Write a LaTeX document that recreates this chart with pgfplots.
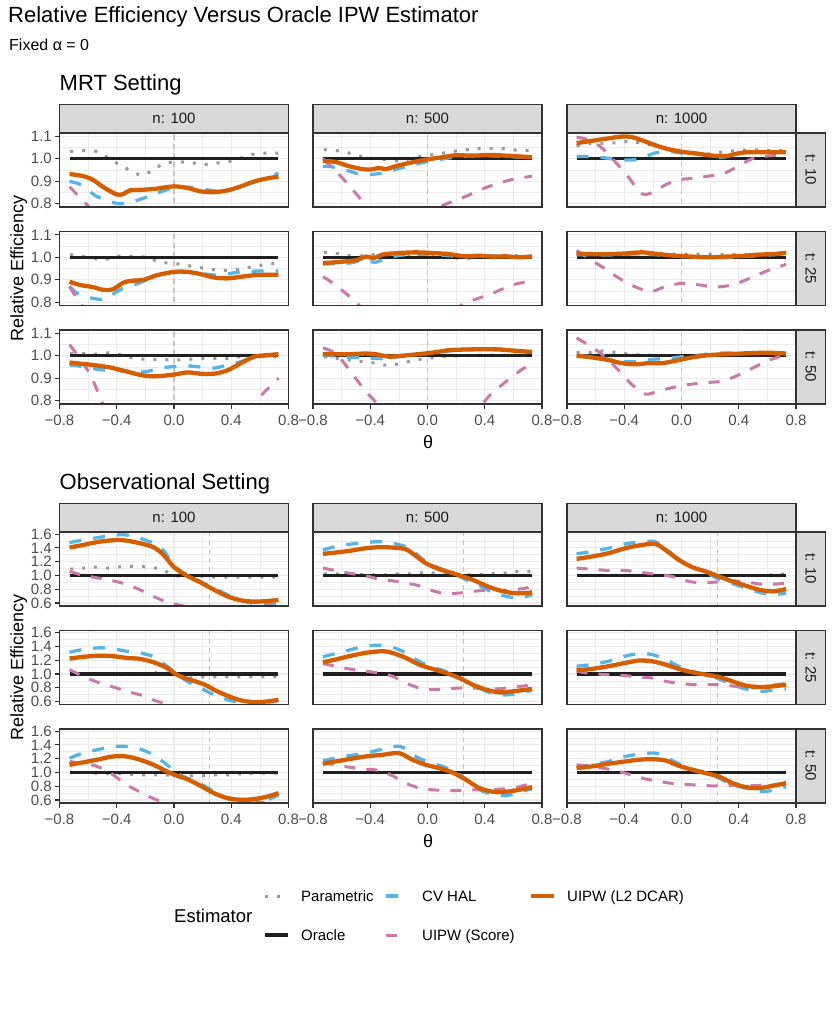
\documentclass[border=0pt]{standalone}
\usepackage{fontspec}
\setmainfont{Liberation Sans}
\usepackage{pgfplots}
\pgfplotsset{compat=1.18}
\definecolor{cvhalc}{HTML}{56B4E9}
\definecolor{l2c}{HTML}{D55E00}
\definecolor{scorec}{HTML}{CC79A7}
\definecolor{paramc}{HTML}{999999}
\definecolor{oraclec}{HTML}{1F1F1F}
\definecolor{gridc}{HTML}{EBEBEB}
\definecolor{stripc}{HTML}{D9D9D9}
\definecolor{borderc}{HTML}{333333}
\definecolor{ticklab}{HTML}{4D4D4D}
\definecolor{striptext}{HTML}{1A1A1A}
\definecolor{vlinec}{HTML}{C4C4C4}
\newcommand{\ticksz}{\fontsize{15}{18}\selectfont}
\pgfplotsset{
  base/.style={scale only axis, width=229pt, height=74pt, anchor=north west,
    xmin=-0.8, xmax=0.8, clip=true,
    axis line style={draw=borderc, line width=1.1pt},
    grid=both, major grid style={draw=gridc, line width=1.1pt}, minor grid style={draw=gridc, line width=0.55pt},
    xtick={-0.8,-0.4,0,0.4,0.8}, minor xtick={-0.6,-0.2,0.2,0.6},
    xtick pos=bottom, ytick pos=left, tick align=outside,
    major tick length=4.5pt, minor tick length=0pt,
    tick style={draw=borderc, line width=1.1pt},
    xticklabels={}, yticklabels={},
    xticklabel style={font=\ticksz, text=ticklab, inner sep=0pt, anchor=north, yshift=-6pt},
    yticklabel style={font=\ticksz, text=ticklab, inner sep=0pt, anchor=east, xshift=-3pt},
    after end axis/.code={\draw[borderc, line width=1.1pt] (rel axis cs:0,0) rectangle (rel axis cs:1,1);}},
  mrt/.style={base, ymin=0.785, ymax=1.115, ytick={0.8,0.9,1.0,1.1}, minor ytick={0.85,0.95,1.05}},
  obs/.style={base, ymin=0.557, ymax=1.63, ytick={0.6,0.8,1.0,1.2,1.4,1.6}, minor ytick={0.7,0.9,1.1,1.3,1.5}},
  showx/.style={xticklabels={−0.8,−0.4,0.0,0.4,0.8}},
  nox/.style={xtick style={draw=none}},
  noy/.style={ytick style={draw=none}},
  showymrt/.style={yticklabels={0.8,0.9,1.0,1.1}},
  showyobs/.style={yticklabels={0.6,0.8,1.0,1.2,1.4,1.6}},
  vline/.style={vlinec, line width=1.3pt, dash pattern=on 5pt off 4pt, mark=none},
  param/.style={paramc, line width=3pt, dash pattern=on 3pt off 9pt, mark=none, smooth, tension=0.5},
  oracle/.style={oraclec, line width=3.2pt, mark=none},
  cvhal/.style={cvhalc, line width=3.3pt, dash pattern=on 12pt off 12pt, mark=none, smooth, tension=0.5},
  score/.style={scorec, line width=3pt, dash pattern=on 11pt off 11pt, mark=none, smooth, tension=0.5},
  l2/.style={l2c, line width=4.3pt, mark=none, smooth, tension=0.5, line join=round},
}
\newcommand{\orc}{\addplot[oracle] coordinates {(-0.73,1) (0.73,1)};}
\begin{document}
\begin{tikzpicture}[x=1pt,y=1pt]
\useasboundingbox (0pt,0pt) rectangle (839pt,-1036pt);
% ================= MRT =================
\begin{axis}[mrt, at={(59.5pt,-133pt)}, nox, showymrt]
\addplot[vline] coordinates {(0,0) (0,2)};
\addplot[param] coordinates {(-0.725,1.033) (-0.631,1.036) (-0.542,1.033) (-0.46,1.004) (-0.385,0.975) (-0.308,0.949) (-0.225,0.926) (-0.148,0.949) (-0.073,0.978) (0.021,0.986) (0.115,0.983) (0.209,0.975) (0.298,0.981) (0.385,0.988) (0.472,1.004) (0.566,1.022) (0.655,1.025) (0.73,1.025)};
\orc
\addplot[cvhal] coordinates {(-0.73,0.899) (-0.648,0.884) (-0.542,0.833) (-0.401,0.801) (-0.331,0.804) (-0.237,0.819) (-0.143,0.841) (-0.049,0.862) (0.045,0.872) (0.138,0.872) (0.232,0.862) (0.326,0.855) (0.42,0.865) (0.514,0.884) (0.631,0.913) (0.73,0.935)};
\addplot[score] coordinates {(-0.73,0.875) (-0.6,0.79) (-0.5,0.72) (-0.3,0.65) (0,0.62) (0.3,0.65) (0.5,0.7) (0.73,0.74)};
\addplot[l2] coordinates {(-0.73,0.932) (-0.636,0.923) (-0.566,0.906) (-0.495,0.874) (-0.401,0.841) (-0.354,0.843) (-0.308,0.859) (-0.214,0.862) (-0.12,0.867) (-0.002,0.877) (0.092,0.870) (0.185,0.855) (0.279,0.851) (0.373,0.859) (0.467,0.877) (0.561,0.899) (0.655,0.913) (0.73,0.920)};
\end{axis}
\begin{axis}[mrt, at={(59.5pt,-231.5pt)}, nox, showymrt]
\addplot[vline] coordinates {(0,0) (0,2)};
\addplot[param] coordinates {(-0.725,1.012) (-0.636,1.003) (-0.542,0.993) (-0.46,0.993) (-0.366,1.007) (-0.284,1.003) (-0.19,1.0) (-0.101,0.978) (-0.007,0.974) (0.087,0.964) (0.181,0.954) (0.275,0.945) (0.362,0.942) (0.448,0.946) (0.542,0.957) (0.631,0.967) (0.725,0.974)};
\orc
\addplot[cvhal] coordinates {(-0.73,0.87) (-0.66,0.833) (-0.542,0.814) (-0.472,0.816) (-0.378,0.855) (-0.237,0.887) (-0.143,0.913) (0.0,0.935) (0.092,0.935) (0.185,0.928) (0.303,0.92) (0.373,0.926) (0.467,0.935) (0.608,0.939) (0.73,0.939)};
\addplot[score] coordinates {(-0.73,0.87) (-0.66,0.80) (-0.55,0.72) (-0.3,0.6) (0,0.58) (0.3,0.6) (0.73,0.65)};
\addplot[l2] coordinates {(-0.73,0.891) (-0.66,0.877) (-0.566,0.867) (-0.495,0.855) (-0.425,0.858) (-0.354,0.887) (-0.284,0.896) (-0.214,0.899) (-0.12,0.92) (0.0,0.935) (0.092,0.935) (0.185,0.925) (0.279,0.91) (0.373,0.906) (0.467,0.913) (0.561,0.92) (0.655,0.922) (0.73,0.922)};
\end{axis}
\begin{axis}[mrt, at={(59.5pt,-330pt)}, showx, showymrt]
\addplot[vline] coordinates {(0,0) (0,2)};
\addplot[param] coordinates {(-0.725,1.01) (-0.636,1.01) (-0.542,1.007) (-0.448,1.014) (-0.366,1.003) (-0.272,0.988) (-0.178,0.984) (-0.085,0.984) (0.009,0.981) (0.103,0.984) (0.185,0.988) (0.279,0.988) (0.373,0.988) (0.467,0.996) (0.561,0.996) (0.655,0.996) (0.73,0.996)};
\orc
\addplot[cvhal] coordinates {(-0.73,0.959) (-0.636,0.952) (-0.519,0.938) (-0.401,0.935) (-0.284,0.926) (-0.19,0.93) (-0.096,0.945) (0,0.952) (0.092,0.955) (0.185,0.95) (0.279,0.945) (0.373,0.959) (0.467,0.974) (0.561,0.993) (0.655,1.0) (0.73,1.0)};
\addplot[score] coordinates {(-0.73,1.05) (-0.65,0.98) (-0.58,0.91) (-0.52,0.82) (-0.4,0.65) (-0.2,0.55) (0,0.5) (0.2,0.55) (0.4,0.66) (0.56,0.79) (0.65,0.85) (0.73,0.90)};
\addplot[l2] coordinates {(-0.73,0.97) (-0.66,0.965) (-0.566,0.959) (-0.448,0.948) (-0.331,0.93) (-0.214,0.912) (-0.12,0.909) (0,0.916) (0.092,0.926) (0.185,0.92) (0.279,0.92) (0.373,0.935) (0.467,0.967) (0.561,0.996) (0.655,1.003) (0.73,1.007)};
\end{axis}
% n = 500
\begin{axis}[mrt, at={(313pt,-133pt)}, nox, noy]
\addplot[vline] coordinates {(0,0) (0,2)};
\addplot[param] coordinates {(-0.724,1.041) (-0.631,1.036) (-0.544,1.025) (-0.456,1.01) (-0.367,1.0) (-0.28,0.996) (-0.194,0.99) (-0.105,1.004) (-0.016,1.014) (0.077,1.022) (0.166,1.032) (0.255,1.039) (0.346,1.046) (0.437,1.046) (0.526,1.046) (0.619,1.039) (0.713,1.036)};
\orc
\addplot[cvhal] coordinates {(-0.731,0.967) (-0.666,0.964) (-0.549,0.946) (-0.456,0.928) (-0.362,0.932) (-0.292,0.938) (-0.199,0.957) (-0.105,0.971) (-0.012,0.986) (0.152,1.004) (0.269,1.012) (0.409,1.014) (0.549,1.01) (0.731,1.006)};
\addplot[score] coordinates {(-0.73,1.0) (-0.6,0.918) (-0.48,0.83) (-0.4,0.77) (-0.3,0.70) (-0.15,0.70) (0,0.75) (0.1,0.79) (0.27,0.833) (0.43,0.877) (0.6,0.909) (0.73,0.922)};
\addplot[l2] coordinates {(-0.731,0.99) (-0.643,0.986) (-0.549,0.967) (-0.456,0.954) (-0.397,0.952) (-0.339,0.959) (-0.292,0.954) (-0.222,0.967) (-0.129,0.981) (-0.012,0.996) (0.105,1.007) (0.199,1.016) (0.315,1.014) (0.432,1.017) (0.549,1.014) (0.731,1.007)};
\end{axis}
\begin{axis}[mrt, at={(313pt,-231.5pt)}, nox, noy]
\addplot[vline] coordinates {(0,0) (0,2)};
\addplot[param] coordinates {(-0.724,1.022) (-0.631,1.017) (-0.544,1.007) (-0.456,1.007) (-0.367,1.012) (-0.28,1.012) (-0.194,1.003) (-0.105,1.007) (-0.016,1.003) (0.077,1.003) (0.166,1.0) (0.255,0.993) (0.346,1.0) (0.437,1.003) (0.526,1.01) (0.619,1.007) (0.713,1.0)};
\orc
\addplot[cvhal] coordinates {(-0.731,0.97) (-0.643,0.972) (-0.549,0.974) (-0.45,0.985) (-0.362,0.978) (-0.292,0.995) (-0.199,1.008) (-0.082,1.014) (0.035,1.012) (0.152,1.007) (0.269,1.003) (0.409,1.007) (0.549,1.003) (0.731,1.0)};
\addplot[score] coordinates {(-0.73,0.913) (-0.66,0.884) (-0.52,0.812) (-0.4,0.74) (-0.2,0.68) (0,0.68) (0.15,0.74) (0.257,0.794) (0.43,0.833) (0.596,0.877) (0.73,0.895)};
\addplot[l2] coordinates {(-0.731,0.974) (-0.643,0.978) (-0.549,0.983) (-0.491,0.988) (-0.432,1.003) (-0.374,0.997) (-0.315,1.012) (-0.199,1.019) (-0.082,1.022) (0.035,1.019) (0.152,1.014) (0.269,1.004) (0.362,1.007) (0.456,1.003) (0.549,1.004) (0.643,1.0) (0.731,1.004)};
\end{axis}
\begin{axis}[mrt, at={(313pt,-330pt)}, showx, noy]
\addplot[vline] coordinates {(0,0) (0,2)};
\addplot[param] coordinates {(-0.724,0.996) (-0.631,0.988) (-0.544,0.981) (-0.451,0.974) (-0.362,0.967) (-0.273,0.957) (-0.18,0.967) (-0.091,0.981) (0,0.988) (0.093,0.996) (0.187,1.0) (0.269,1.0) (0.362,1.003) (0.456,1.003) (0.549,1.003) (0.631,1.003) (0.713,1.007)};
\orc
\addplot[cvhal] coordinates {(-0.731,1.003) (-0.643,0.999) (-0.549,0.993) (-0.467,0.993) (-0.362,0.988) (-0.292,0.988) (-0.199,0.996) (-0.082,1.003) (0.035,1.013) (0.152,1.022) (0.269,1.028) (0.409,1.032) (0.549,1.028) (0.731,1.017)};
\addplot[score] coordinates {(-0.73,1.035) (-0.64,1.01) (-0.55,0.94) (-0.43,0.84) (-0.35,0.785) (-0.2,0.66) (0,0.6) (0.25,0.68) (0.43,0.82) (0.64,0.93) (0.73,0.965)};
\addplot[l2] coordinates {(-0.731,1.007) (-0.643,1.007) (-0.549,1.007) (-0.432,1.01) (-0.362,1.007) (-0.269,0.996) (-0.199,0.999) (-0.082,1.006) (0.035,1.014) (0.152,1.025) (0.269,1.028) (0.386,1.029) (0.502,1.028) (0.619,1.022) (0.731,1.017)};
\end{axis}
% n = 1000
\begin{axis}[mrt, at={(567pt,-133pt)}, nox, noy]
\addplot[vline] coordinates {(0,0) (0,2)};
\addplot[param] coordinates {(-0.733,1.058) (-0.639,1.068) (-0.546,1.068) (-0.452,1.072) (-0.358,1.077) (-0.265,1.068) (-0.171,1.054) (-0.077,1.043) (0.016,1.033) (0.11,1.025) (0.192,1.022) (0.274,1.029) (0.368,1.036) (0.461,1.039) (0.555,1.039) (0.637,1.036) (0.726,1.039)};
\orc
\addplot[cvhal] coordinates {(-0.733,1.01) (-0.651,1.01) (-0.534,1.004) (-0.44,0.996) (-0.323,0.996) (-0.253,1.01) (-0.183,1.026) (-0.089,1.033) (0.005,1.025) (0.098,1.022) (0.192,1.014) (0.286,1.007) (0.379,1.022) (0.496,1.029) (0.59,1.029) (0.731,1.029)};
\addplot[score] coordinates {(-0.733,1.097) (-0.628,1.08) (-0.534,1.036) (-0.452,0.978) (-0.382,0.928) (-0.323,0.877) (-0.265,0.841) (-0.183,0.855) (-0.112,0.884) (-0.019,0.906) (0.075,0.913) (0.192,0.923) (0.309,0.938) (0.403,0.971) (0.52,1.007) (0.637,1.014) (0.73,1.025)};
\addplot[l2] coordinates {(-0.733,1.07) (-0.628,1.08) (-0.511,1.091) (-0.417,1.099) (-0.347,1.097) (-0.253,1.077) (-0.159,1.055) (-0.066,1.039) (0.028,1.029) (0.122,1.022) (0.215,1.014) (0.309,1.012) (0.379,1.022) (0.45,1.029) (0.543,1.029) (0.637,1.029) (0.731,1.029)};
\end{axis}
\begin{axis}[mrt, at={(567pt,-231.5pt)}, nox, noy]
\addplot[vline] coordinates {(0,0) (0,2)};
\addplot[param] coordinates {(-0.733,1.017) (-0.546,1.012) (-0.358,1.014) (-0.171,1.014) (0.016,1.014) (0.192,1.014) (0.368,1.012) (0.555,1.012) (0.73,1.014)};
\orc
\addplot[cvhal] coordinates {(-0.733,1.012) (-0.5,1.01) (-0.3,1.015) (-0.1,1.008) (0.1,1.0) (0.3,0.998) (0.5,1.006) (0.731,1.015)};
\addplot[score] coordinates {(-0.733,1.03) (-0.628,0.986) (-0.534,0.949) (-0.417,0.899) (-0.3,0.862) (-0.206,0.848) (-0.112,0.87) (0.005,0.884) (0.122,0.877) (0.239,0.867) (0.356,0.877) (0.45,0.899) (0.543,0.925) (0.637,0.949) (0.731,0.968)};
\addplot[l2] coordinates {(-0.733,1.017) (-0.628,1.014) (-0.511,1.014) (-0.393,1.017) (-0.276,1.022) (-0.159,1.014) (-0.042,1.007) (0.075,1.003) (0.192,1.0) (0.309,1.003) (0.426,1.006) (0.543,1.012) (0.637,1.014) (0.731,1.02)};
\end{axis}
\begin{axis}[mrt, at={(567pt,-330pt)}, showx, noy]
\addplot[vline] coordinates {(0,0) (0,2)};
\addplot[param] coordinates {(-0.733,1.014) (-0.639,1.014) (-0.546,1.022) (-0.452,1.014) (-0.358,1.007) (-0.265,1.003) (-0.171,1.003) (-0.077,0.999) (0.016,0.999) (0.11,0.996) (0.203,1.0) (0.297,1.0) (0.391,1.003) (0.485,1.003) (0.578,1.007) (0.66,1.007) (0.73,1.007)};
\orc
\addplot[cvhal] coordinates {(-0.733,1.0) (-0.628,0.996) (-0.534,0.988) (-0.44,0.974) (-0.323,0.974) (-0.206,0.984) (-0.112,0.988) (0.005,0.996) (0.122,1.003) (0.215,1.01) (0.356,1.013) (0.496,1.013) (0.637,1.01) (0.731,1.007)};
\addplot[score] coordinates {(-0.733,1.08) (-0.628,1.039) (-0.534,0.996) (-0.44,0.935) (-0.347,0.872) (-0.253,0.829) (-0.159,0.843) (-0.066,0.858) (0.052,0.872) (0.169,0.88) (0.286,0.887) (0.379,0.909) (0.496,0.945) (0.614,0.981) (0.731,1.005)};
\addplot[l2] coordinates {(-0.733,1.0) (-0.628,0.993) (-0.511,0.981) (-0.417,0.967) (-0.323,0.962) (-0.229,0.967) (-0.136,0.967) (-0.042,0.978) (0.075,0.993) (0.192,1.003) (0.309,1.007) (0.426,1.01) (0.543,1.013) (0.637,1.013) (0.731,1.01)};
\end{axis}
% ================= Observational =================
\begin{axis}[obs, at={(59.5pt,-532pt)}, nox, showyobs]
\addplot[vline] coordinates {(0.25,0) (0.25,2)};
\addplot[param] coordinates {(-0.725,1.091) (-0.636,1.106) (-0.542,1.12) (-0.448,1.106) (-0.354,1.13) (-0.265,1.13) (-0.171,1.12) (-0.077,1.082) (0.0,1.0) (0.094,0.986) (0.188,0.986) (0.282,0.976) (0.376,0.976) (0.469,0.976) (0.563,0.976) (0.655,0.976) (0.73,0.976)};
\orc
\addplot[cvhal] coordinates {(-0.73,1.476) (-0.636,1.514) (-0.519,1.553) (-0.401,1.587) (-0.331,1.587) (-0.237,1.538) (-0.143,1.466) (-0.073,1.36) (0,1.14) (0.092,1.0) (0.185,0.91) (0.279,0.817) (0.373,0.721) (0.467,0.64) (0.561,0.591) (0.655,0.577) (0.73,0.61)};
\addplot[score] coordinates {(-0.73,1.06) (-0.65,1.01) (-0.55,0.97) (-0.47,0.94) (-0.38,0.90) (-0.28,0.83) (-0.2,0.755) (-0.12,0.673) (-0.03,0.60) (0.06,0.56) (0.2,0.50) (0.4,0.48) (0.6,0.54) (0.73,0.585)};
\addplot[l2] coordinates {(-0.73,1.404) (-0.636,1.442) (-0.519,1.49) (-0.401,1.514) (-0.331,1.505) (-0.237,1.466) (-0.143,1.409) (-0.073,1.298) (0,1.12) (0.092,0.995) (0.185,0.899) (0.279,0.793) (0.373,0.697) (0.467,0.64) (0.561,0.62) (0.655,0.63) (0.73,0.645)};
\end{axis}
\begin{axis}[obs, at={(59.5pt,-630.5pt)}, nox, showyobs]
\addplot[vline] coordinates {(0.25,0) (0.25,2)};
\addplot[param] coordinates {(-0.725,1.015) (-0.636,1.005) (-0.542,1.005) (-0.448,0.99) (-0.354,0.99) (-0.26,0.99) (-0.167,1.005) (-0.073,1.024) (0.009,0.976) (0.103,0.942) (0.197,0.956) (0.291,0.956) (0.385,0.956) (0.467,0.956) (0.561,0.956) (0.655,0.956) (0.73,0.956)};
\orc
\addplot[cvhal] coordinates {(-0.73,1.316) (-0.636,1.354) (-0.519,1.379) (-0.425,1.364) (-0.331,1.33) (-0.237,1.306) (-0.143,1.248) (-0.049,1.112) (0.02,1.0) (0.092,0.893) (0.185,0.796) (0.279,0.699) (0.373,0.626) (0.467,0.587) (0.561,0.578) (0.655,0.583) (0.73,0.617)};
\addplot[score] coordinates {(-0.73,1.063) (-0.636,0.966) (-0.519,0.869) (-0.401,0.796) (-0.284,0.723) (-0.2,0.675) (-0.13,0.612) (0,0.54) (0.2,0.47) (0.4,0.45) (0.6,0.52) (0.73,0.58)};
\addplot[l2] coordinates {(-0.73,1.223) (-0.636,1.248) (-0.519,1.265) (-0.425,1.257) (-0.331,1.233) (-0.237,1.218) (-0.143,1.17) (-0.049,1.087) (0.02,0.99) (0.09,0.93) (0.16,0.885) (0.22,0.84) (0.279,0.772) (0.373,0.684) (0.467,0.617) (0.561,0.592) (0.655,0.602) (0.73,0.626)};
\end{axis}
\begin{axis}[obs, at={(59.5pt,-729pt)}, showx, showyobs]
\addplot[vline] coordinates {(0.25,0) (0.25,2)};
\addplot[param] coordinates {(-0.725,1.0) (-0.636,1.0) (-0.542,0.99) (-0.448,0.981) (-0.354,0.981) (-0.26,0.966) (-0.167,0.966) (-0.073,0.966) (0.009,0.952) (0.103,0.952) (0.197,0.952) (0.291,0.966) (0.385,0.966) (0.467,0.981) (0.561,0.99) (0.655,0.99) (0.73,0.99)};
\orc
\addplot[cvhal] coordinates {(-0.73,1.208) (-0.636,1.28) (-0.519,1.338) (-0.425,1.377) (-0.331,1.377) (-0.237,1.338) (-0.143,1.256) (-0.049,1.111) (0.021,0.99) (0.092,0.918) (0.185,0.836) (0.279,0.725) (0.373,0.628) (0.467,0.58) (0.561,0.556) (0.655,0.604) (0.73,0.676)};
\addplot[score] coordinates {(-0.73,1.16) (-0.64,1.13) (-0.55,1.097) (-0.45,1.0) (-0.33,0.82) (-0.24,0.72) (-0.15,0.628) (0,0.52) (0.3,0.45) (0.5,0.53) (0.58,0.575) (0.65,0.545) (0.73,0.5)};
\addplot[l2] coordinates {(-0.73,1.111) (-0.636,1.145) (-0.519,1.193) (-0.425,1.232) (-0.331,1.232) (-0.237,1.184) (-0.143,1.111) (-0.049,1.014) (0.021,0.952) (0.092,0.903) (0.185,0.807) (0.279,0.7) (0.373,0.628) (0.467,0.604) (0.561,0.614) (0.655,0.652) (0.73,0.70)};
\end{axis}
% n = 500
\begin{axis}[obs, at={(313pt,-532pt)}, nox, noy]
\addplot[vline] coordinates {(0.25,0) (0.25,2)};
\addplot[param] coordinates {(-0.724,1.024) (-0.631,1.024) (-0.537,1.024) (-0.444,1.01) (-0.362,1.01) (-0.269,1.01) (-0.187,1.024) (-0.093,1.024) (-0.012,1.043) (0.082,1.024) (0.164,1.01) (0.257,1.01) (0.35,1.01) (0.444,1.024) (0.537,1.034) (0.631,1.058) (0.724,1.058)};
\orc
\addplot[cvhal] coordinates {(-0.731,1.37) (-0.643,1.418) (-0.549,1.452) (-0.432,1.476) (-0.339,1.49) (-0.245,1.466) (-0.152,1.418) (-0.082,1.322) (-0.012,1.202) (0.082,1.106) (0.175,1.034) (0.269,0.938) (0.362,0.851) (0.456,0.755) (0.549,0.697) (0.643,0.673) (0.731,0.721)};
\addplot[score] coordinates {(-0.731,1.106) (-0.643,1.072) (-0.549,1.034) (-0.432,0.995) (-0.339,0.947) (-0.245,0.923) (-0.152,0.889) (-0.058,0.851) (0.035,0.779) (0.129,0.736) (0.222,0.745) (0.315,0.769) (0.409,0.784) (0.502,0.784) (0.596,0.793) (0.689,0.817) (0.731,0.851)};
\addplot[l2] coordinates {(-0.731,1.313) (-0.643,1.332) (-0.549,1.356) (-0.432,1.394) (-0.339,1.409) (-0.245,1.404) (-0.152,1.38) (-0.082,1.284) (-0.012,1.178) (0.082,1.091) (0.175,1.034) (0.245,0.986) (0.315,0.938) (0.409,0.851) (0.502,0.784) (0.596,0.745) (0.689,0.745) (0.731,0.755)};
\end{axis}
\begin{axis}[obs, at={(313pt,-630.5pt)}, nox, noy]
\addplot[vline] coordinates {(0.25,0) (0.25,2)};
\addplot[param] coordinates {(-0.73,1.0) (-0.4,1.0) (0,1.0) (0.4,1.0) (0.73,1.0)};
\orc
\addplot[cvhal] coordinates {(-0.731,1.248) (-0.643,1.296) (-0.549,1.345) (-0.432,1.403) (-0.339,1.417) (-0.269,1.403) (-0.175,1.33) (-0.082,1.209) (0.012,1.112) (0.105,1.053) (0.199,0.966) (0.292,0.869) (0.386,0.772) (0.479,0.699) (0.572,0.699) (0.643,0.723) (0.731,0.762)};
\addplot[score] coordinates {(-0.731,1.15) (-0.643,1.112) (-0.549,1.073) (-0.432,1.039) (-0.339,1.015) (-0.245,0.966) (-0.152,0.869) (-0.058,0.796) (0.035,0.772) (0.129,0.782) (0.222,0.796) (0.315,0.796) (0.409,0.786) (0.502,0.786) (0.596,0.811) (0.689,0.83) (0.731,0.859)};
\addplot[l2] coordinates {(-0.731,1.17) (-0.643,1.209) (-0.549,1.257) (-0.432,1.306) (-0.315,1.33) (-0.245,1.306) (-0.152,1.233) (-0.058,1.136) (0.035,1.073) (0.129,1.015) (0.222,0.942) (0.315,0.845) (0.409,0.772) (0.502,0.733) (0.596,0.748) (0.689,0.772) (0.731,0.782)};
\end{axis}
\begin{axis}[obs, at={(313pt,-729pt)}, showx, noy]
\addplot[vline] coordinates {(0.25,0) (0.25,2)};
\addplot[param] coordinates {(-0.73,1.0) (-0.4,1.0) (0,1.0) (0.4,1.0) (0.73,1.0)};
\orc
\addplot[cvhal] coordinates {(-0.731,1.169) (-0.643,1.208) (-0.549,1.242) (-0.432,1.28) (-0.315,1.338) (-0.222,1.377) (-0.175,1.367) (-0.082,1.232) (0.012,1.145) (0.105,1.087) (0.199,1.0) (0.292,0.87) (0.386,0.725) (0.456,0.691) (0.549,0.662) (0.643,0.725) (0.731,0.758)};
\addplot[score] coordinates {(-0.731,1.145) (-0.643,1.111) (-0.549,1.077) (-0.432,1.048) (-0.339,1.029) (-0.245,0.952) (-0.152,0.845) (-0.058,0.773) (0.035,0.749) (0.129,0.739) (0.222,0.739) (0.315,0.749) (0.409,0.749) (0.502,0.758) (0.596,0.773) (0.689,0.821) (0.731,0.855)};
\addplot[l2] coordinates {(-0.731,1.126) (-0.643,1.159) (-0.549,1.193) (-0.432,1.232) (-0.315,1.256) (-0.199,1.28) (-0.105,1.184) (-0.012,1.111) (0.082,1.063) (0.175,1.0) (0.269,0.894) (0.362,0.773) (0.456,0.72) (0.502,0.715) (0.549,0.72) (0.643,0.749) (0.731,0.787)};
\end{axis}
% n = 1000
\begin{axis}[obs, at={(567pt,-532pt)}, nox, noy]
\addplot[vline] coordinates {(0.25,0) (0.25,2)};
\addplot[param] coordinates {(-0.73,1.0) (-0.4,1.0) (0,1.0) (0.4,1.0) (0.6,1.005) (0.731,1.024)};
\orc
\addplot[cvhal] coordinates {(-0.733,1.313) (-0.628,1.346) (-0.511,1.394) (-0.393,1.457) (-0.276,1.49) (-0.183,1.49) (-0.112,1.394) (-0.019,1.226) (0.075,1.12) (0.169,1.043) (0.262,0.947) (0.356,0.88) (0.45,0.817) (0.543,0.755) (0.637,0.721) (0.731,0.745)};
\addplot[score] coordinates {(-0.733,1.106) (-0.628,1.091) (-0.511,1.072) (-0.393,1.072) (-0.276,1.043) (-0.159,1.01) (-0.066,0.986) (0.005,0.938) (0.098,0.899) (0.192,0.899) (0.286,0.91) (0.379,0.92) (0.473,0.9) (0.567,0.87) (0.66,0.875) (0.731,0.889)};
\addplot[l2] coordinates {(-0.733,1.24) (-0.628,1.274) (-0.511,1.322) (-0.393,1.394) (-0.276,1.442) (-0.183,1.457) (-0.112,1.37) (-0.019,1.226) (0.075,1.12) (0.169,1.058) (0.262,0.986) (0.356,0.913) (0.45,0.851) (0.543,0.793) (0.637,0.769) (0.731,0.803)};
\end{axis}
\begin{axis}[obs, at={(567pt,-630.5pt)}, nox, noy]
\addplot[vline] coordinates {(0.25,0) (0.25,2)};
\addplot[param] coordinates {(-0.73,1.0) (-0.4,1.0) (0,1.0) (0.4,1.0) (0.73,1.0)};
\orc
\addplot[cvhal] coordinates {(-0.733,1.112) (-0.628,1.136) (-0.511,1.184) (-0.393,1.257) (-0.3,1.296) (-0.206,1.282) (-0.112,1.209) (-0.019,1.112) (0.075,1.039) (0.169,0.99) (0.262,0.927) (0.356,0.845) (0.45,0.782) (0.543,0.748) (0.637,0.762) (0.731,0.782)};
\addplot[score] coordinates {(-0.733,1.039) (-0.628,1.005) (-0.511,0.99) (-0.393,0.976) (-0.3,0.956) (-0.206,0.942) (-0.112,0.893) (0.005,0.859) (0.098,0.845) (0.192,0.845) (0.286,0.845) (0.379,0.82) (0.473,0.796) (0.567,0.82) (0.66,0.845) (0.731,0.859)};
\addplot[l2] coordinates {(-0.733,1.053) (-0.628,1.073) (-0.511,1.112) (-0.393,1.16) (-0.3,1.194) (-0.206,1.184) (-0.112,1.136) (-0.019,1.073) (0.075,1.024) (0.169,0.99) (0.262,0.956) (0.356,0.893) (0.45,0.83) (0.543,0.811) (0.637,0.82) (0.731,0.845)};
\end{axis}
\begin{axis}[obs, at={(567pt,-729pt)}, showx, noy]
\addplot[vline] coordinates {(0.25,0) (0.25,2)};
\addplot[param] coordinates {(-0.73,1.0) (-0.4,1.0) (0,1.0) (0.4,1.0) (0.73,1.0)};
\orc
\addplot[cvhal] coordinates {(-0.733,1.077) (-0.628,1.111) (-0.511,1.159) (-0.393,1.232) (-0.276,1.271) (-0.183,1.28) (-0.112,1.222) (-0.019,1.126) (0.075,1.048) (0.169,1.0) (0.262,0.918) (0.356,0.821) (0.45,0.773) (0.543,0.725) (0.637,0.739) (0.731,0.797)};
\addplot[score] coordinates {(-0.733,1.111) (-0.628,1.087) (-0.511,1.048) (-0.393,0.99) (-0.276,0.918) (-0.159,0.87) (-0.042,0.836) (0.075,0.821) (0.192,0.807) (0.309,0.807) (0.403,0.821) (0.496,0.807) (0.59,0.821) (0.684,0.821) (0.731,0.836)};
\addplot[l2] coordinates {(-0.733,1.063) (-0.628,1.087) (-0.511,1.126) (-0.393,1.159) (-0.3,1.184) (-0.206,1.193) (-0.112,1.174) (-0.019,1.097) (0.075,1.039) (0.169,0.99) (0.262,0.942) (0.356,0.845) (0.45,0.787) (0.543,0.773) (0.637,0.807) (0.731,0.845)};
\end{axis}
% ================= strips =================
\tikzset{strip/.style={fill=stripc, draw=borderc, line width=1.1pt},
         stxt/.style={text=striptext, font=\fontsize{15}{18}\selectfont, inner sep=0pt}}
\foreach \top in {133,532}{
  \foreach \x/\lab in {59.5/100,313/500,567/1000}{
    \draw[strip] (\x,-\top+28.5) rectangle (\x+229,-\top);
    \node[stxt] at (\x+114.5,-\top+14.25) {n: \lab};
  }
}
\foreach \top in {133,231.5,330,532,630.5,729}{
  \draw[strip] (796,-\top) rectangle (825.5,-\top-74);
}
\foreach \top/\lab in {133/10,231.5/25,330/50,532/10,630.5/25,729/50}{
  \node[stxt, rotate=-90] at (810.75,-\top-37) {t: \lab};
}
% ================= titles =================
\node[anchor=base west, inner sep=0pt, font=\fontsize{22}{26}\selectfont] at (8,-22.7) {Relative Efficiency Versus Oracle IPW Estimator};
\node[anchor=base west, inner sep=0pt, font=\fontsize{16}{19}\selectfont] at (9,-50.7) {Fixed α = 0};
\node[anchor=base west, inner sep=0pt, font=\fontsize{22}{26}\selectfont] at (59.5,-90.7) {MRT Setting};
\node[anchor=base west, inner sep=0pt, font=\fontsize{22}{26}\selectfont] at (59.5,-489.3) {Observational Setting};
\node[anchor=base, inner sep=0pt, rotate=90, font=\fontsize{18}{21}\selectfont] at (23.3,-268.5) {Relative Efficiency};
\node[anchor=base, inner sep=0pt, rotate=90, font=\fontsize{18}{21}\selectfont] at (23.3,-667.5) {Relative Efficiency};
\node[inner sep=0pt, font=\fontsize{18}{21}\selectfont] at (428,-442) {θ};
\node[inner sep=0pt, font=\fontsize{18}{21}\selectfont] at (428,-841) {θ};
% ================= legend =================
\node[anchor=base west, inner sep=0pt, font=\fontsize{18.5}{22}\selectfont] at (174,-922.7) {Estimator};
\draw[paramc, line width=3pt, dash pattern=on 3pt off 9pt] (265,-896) -- (288,-896);
\draw[oraclec, line width=3.2pt] (265,-935) -- (288,-935);
\draw[cvhalc, line width=3.3pt] (386,-896) -- (398,-896);
\draw[scorec, line width=3pt] (386,-935) -- (397,-935);
\draw[l2c, line width=4.3pt] (531,-896) -- (554,-896);
\tikzset{ltxt/.style={anchor=base west, inner sep=0pt, font=\fontsize{15}{18}\selectfont}}
\node[ltxt] at (301,-901.3) {Parametric};
\node[ltxt] at (301,-940.3) {Oracle};
\node[ltxt] at (422,-901.3) {CV HAL};
\node[ltxt] at (422,-940.3) {UIPW (Score)};
\node[ltxt] at (567,-901.3) {UIPW (L2 DCAR)};
\end{tikzpicture}
\end{document}
